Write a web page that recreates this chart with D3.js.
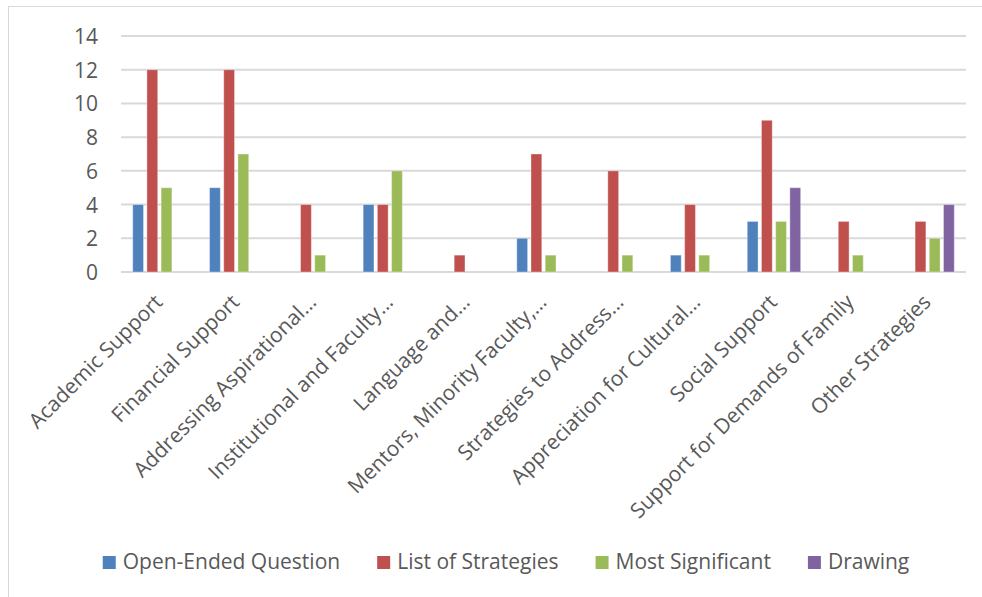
<!DOCTYPE html>
<html>
<head>
<meta charset="utf-8">
<script src="https://cdn.jsdelivr.net/npm/d3@7/dist/d3.min.js"></script>
<style>
  html, body { margin: 0; padding: 0; background: #fff; }
  svg { display: block; }
  text { font-family: "Open Sans", sans-serif; fill: #595959; }
</style>
</head>
<body>
<svg id="chart" width="982" height="597"></svg>
<script>
// Strategy categories along the x axis
const categories = [
  "Academic Support",
  "Financial Support",
  "Addressing Aspirational…",
  "Institutional and Faculty…",
  "Language and…",
  "Mentors, Minority Faculty,…",
  "Strategies to Address…",
  "Appreciation for Cultural…",
  "Social Support",
  "Support for Demands of Family",
  "Other Strategies"
];

// Series names (legend order)
const seriesNames = ["Open-Ended Question", "List of Strategies", "Most Significant", "Drawing"];

// Counts per category for each series
const openEnded        = [4, 5, 0, 4, 0, 2, 0, 1, 3, 0, 0];
const listOfStrategies = [12, 12, 4, 4, 1, 7, 6, 4, 9, 3, 3];
const mostSignificant  = [5, 7, 1, 6, 0, 1, 1, 1, 3, 1, 2];
const drawing          = [0, 0, 0, 0, 0, 0, 0, 0, 5, 0, 4];

const yTicks = [0, 2, 4, 6, 8, 10, 12, 14];

const seriesValues = [openEnded, listOfStrategies, mostSignificant, drawing];
const colors = ["#4f81bd", "#c0504d", "#9bbb59", "#8064a2"];

const svg = d3.select("#chart");
const W = 982, H = 597;

// outer chart frame
svg.append("rect")
  .attr("x", 8.5).attr("y", 6.5)
  .attr("width", W + 20).attr("height", H + 20)
  .attr("fill", "none").attr("stroke", "#d9d9d9").attr("stroke-width", 1);

const plot = { left: 121, right: 966, top: 36, bottom: 272 };

const x0 = d3.scaleBand()
  .domain(categories)
  .range([plot.left, plot.right])
  .paddingInner(0).paddingOuter(0);

const bw = x0.bandwidth();
const groupW = bw * 0.695;
const x1 = d3.scaleBand()
  .domain(seriesNames)
  .range([(bw - groupW) / 2, (bw + groupW) / 2])
  .paddingInner(0.24).paddingOuter(0);

const y = d3.scaleLinear().domain([0, 14]).range([plot.bottom, plot.top]);

// gridlines
svg.append("g")
  .selectAll("line")
  .data(yTicks)
  .join("line")
  .attr("x1", plot.left).attr("x2", plot.right)
  .attr("y1", d => y(d)).attr("y2", d => y(d))
  .attr("stroke", "#d9d9d9").attr("stroke-width", 2);

// y axis labels
const yAxis = d3.axisLeft(y).tickValues(yTicks).tickSize(0).tickPadding(0);
const gy = svg.append("g").attr("transform", `translate(${plot.left - 23},0)`).call(yAxis);
gy.select(".domain").remove();
gy.selectAll("text")
  .style("font-family", "'Open Sans', sans-serif")
  .style("font-size", "21px")
  .attr("fill", "#595959")
  .attr("dy", "0.36em");

// bars
const rows = categories.map((c, i) => ({ cat: c, vals: seriesNames.map((s, k) => ({ s, k, v: seriesValues[k][i] })) }));
const groups = svg.append("g").selectAll("g")
  .data(rows)
  .join("g")
  .attr("transform", d => `translate(${x0(d.cat)},0)`);

groups.selectAll("rect")
  .data(d => d.vals.filter(e => e.v > 0))
  .join("rect")
  .attr("x", d => x1(d.s))
  .attr("width", x1.bandwidth())
  .attr("y", d => y(d.v))
  .attr("height", d => y(0) - y(d.v))
  .attr("fill", d => colors[d.k])
  .attr("stroke", "#ffffff").attr("stroke-opacity", 0.35).attr("stroke-width", 1);

// category labels rotated -45
const gx = svg.append("g");
gx.selectAll("text")
  .data(categories)
  .join("text")
  .attr("transform", d => `translate(${x0(d) + bw / 2 - 6},${plot.bottom + 21}) rotate(-45)`)
  .attr("text-anchor", "end")
  .attr("dy", "0.7em")
  .style("font-size", "21px")
  .text(d => d);

// legend
const legend = svg.append("g");
const items = legend.selectAll("g")
  .data(seriesNames)
  .join("g");
items.append("rect")
  .attr("width", 13).attr("height", 13)
  .attr("y", 556)
  .attr("fill", (d, i) => colors[i]);
items.append("text")
  .attr("x", 20).attr("y", 569)
  .style("font-size", "21px")
  .text(d => d);

let cursor = 0;
const offsets = [];
items.each(function () {
  const tw = d3.select(this).select("text").node().getComputedTextLength();
  offsets.push(cursor);
  cursor += 20 + tw + 37;
});
const totalW = cursor - 37;
const startX = 506 - totalW / 2;
items.attr("transform", (d, i) => `translate(${startX + offsets[i]},0)`);
</script>
</body>
</html>
